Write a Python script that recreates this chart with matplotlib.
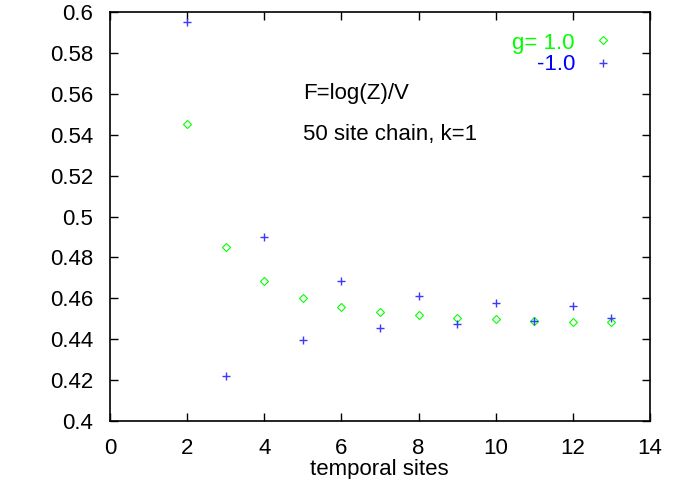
import matplotlib
matplotlib.use("Agg")
import matplotlib.pyplot as plt
from matplotlib.ticker import FuncFormatter
from matplotlib.transforms import IdentityTransform

plt.rcParams['font.family'] = ['Liberation Sans', 'DejaVu Sans']

# temporal sites
sites = [2, 3, 4, 5, 6, 7, 8, 9, 10, 11, 12, 13]
# F = log(Z)/V for g = 1.0 and g = -1.0
f_pos = [0.5452, 0.4849, 0.4686, 0.4602, 0.4559, 0.4533, 0.4517, 0.4506, 0.4498, 0.4491, 0.4486, 0.4483]
f_neg = [0.5950, 0.4218, 0.4902, 0.4394, 0.4686, 0.4454, 0.4611, 0.4476, 0.4579, 0.4491, 0.4561, 0.4502]

H = 479
fig = plt.figure(figsize=(6.84, 4.79), dpi=100)
ax = fig.add_axes([110/684, 1 - 421/H, 540/684, 409/H])

diamond = dict(linestyle='none', marker='D', markersize=3.8, markerfacecolor='none',
               markeredgecolor='#00ff00', markeredgewidth=0.8)
plus = dict(linestyle='none', marker='+', markersize=5.5,
            markeredgecolor='#3a3aff', markeredgewidth=1.0)

ax.plot(sites, f_pos, **diamond)
ax.plot(sites, f_neg, **plus)

ax.set_xlim(0, 14)
ax.set_ylim(0.4, 0.6)
ax.set_xticks(range(0, 15, 2))
ax.set_yticks([0.4 + 0.02 * i for i in range(11)])
ax.yaxis.set_major_formatter(FuncFormatter(lambda v, p: '%g' % round(v, 2)))
ax.tick_params(direction='in', length=6, width=1, top=True, right=True, labelsize=16, pad=12)
for s in ax.spines.values():
    s.set_linewidth(1.2)

ax.set_xlabel('temporal sites', fontsize=16)
ax.xaxis.label.set_va('baseline')
ax.xaxis.set_label_coords((379 - 110) / 540, (421 - 475) / 409)

# annotations
ax.text(303, H - 99, 'F=log(Z)/V', transform=None, fontsize=16, va='baseline', ha='left')
ax.text(303, H - 140, '50 site chain, k=1', transform=None, fontsize=16, va='baseline', ha='left')

# gnuplot-style key
ax.text(575, H - 49, 'g= 1.0', transform=None, fontsize=16, va='baseline', ha='right', color='#00ff00')
ax.text(575, H - 70, '-1.0', transform=None, fontsize=16, va='baseline', ha='right', color='#0000ff')
ax.plot([603], [H - 40], transform=IdentityTransform(), clip_on=False, **diamond)
ax.plot([603], [H - 63], transform=IdentityTransform(), clip_on=False, **plus)

fig.savefig('out.png', dpi=100)
